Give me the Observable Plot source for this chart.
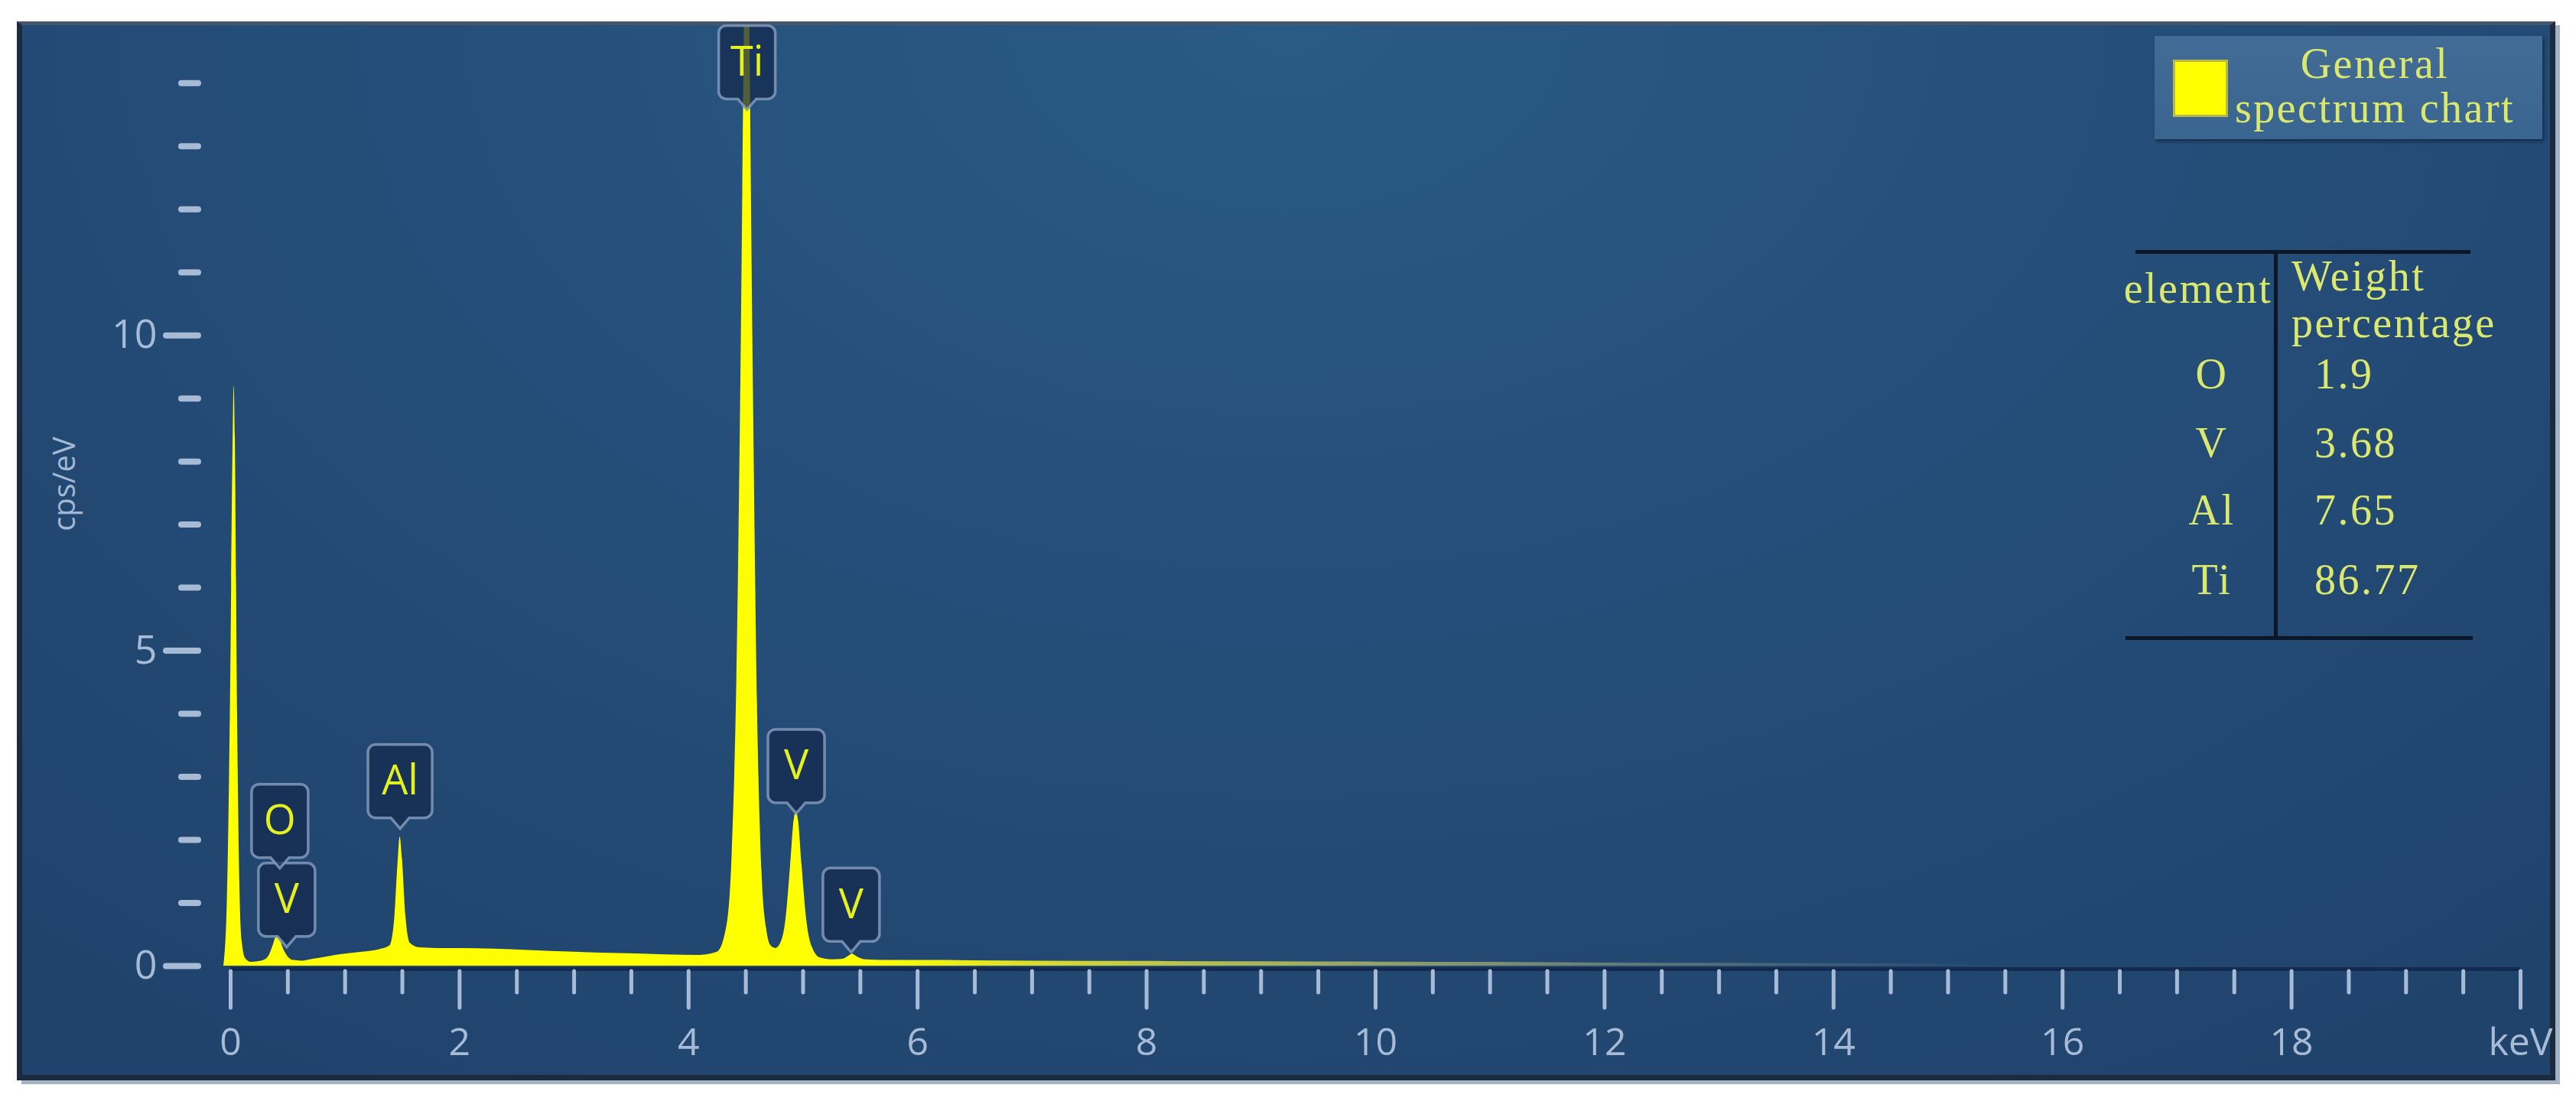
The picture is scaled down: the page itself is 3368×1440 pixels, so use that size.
<!DOCTYPE html>
<html>
<head>
<meta charset="utf-8">
<script src="https://cdn.jsdelivr.net/npm/d3@7"></script>
<script src="https://cdn.jsdelivr.net/npm/@observablehq/plot@0.6"></script>
<style>
  html, body { margin: 0; padding: 0; background: #ffffff; }
  #wrap { position: relative; width: 3368px; height: 1440px; overflow: hidden; background: #ffffff; }
  #frame {
    position: absolute; left: 22px; top: 28px; width: 3319px; height: 1385px;
    box-sizing: border-box;
    border: 7px solid #1b2a3e; border-top: 5px solid #46566a;
    box-shadow: 6px 5px 0 0 #a4b3c3;
    background: radial-gradient(ellipse 75% 120% at 50% 0%, #2a5a86 0%, #254f7a 45%, #20436c 100%);
  }
  #chart { position: absolute; left: 0; top: 0; }
  .mono { position: absolute; font-family: "Liberation Serif", "DejaVu Serif", serif; font-size: 56px; line-height: 56px;
          letter-spacing: 2.5px; color: #dbe86e; white-space: pre; }
  #legend { position: absolute; left: 2817px; top: 47px; width: 507px; height: 135px;
            background: linear-gradient(#426c95, #3a6590); box-shadow: 2px 3px 4px rgba(10,25,45,0.6); }
  #swatch { position: absolute; left: 24px; top: 31px; width: 72px; height: 75px; background: #ffff00;
            box-sizing: border-box; border: 3px solid #b9b94a; }
  .rule { position: absolute; background: #0b1727; }
  #ylab { position: absolute; left: 82px; top: 633px; transform: translate(-50%, -50%) rotate(-90deg);
          font-family: "Open Sans", sans-serif; font-size: 40px; color: #a3b8d4; white-space: nowrap; }
</style>
</head>
<body>
<div id="wrap">
  <div id="frame"></div>
  <div id="chart"></div>
  <div id="ylab">cps/eV</div>
  <div id="legend"><div id="swatch"></div></div>
</div>
<script>
// ---- Spectrum: energy in keV, counts in cps/eV ----
const energy = [-0.06, -0.03, 0.00, 0.02, 0.03, 0.04, 0.06, 0.08, 0.10, 0.13,
                0.18, 0.24, 0.30, 0.34, 0.37, 0.40, 0.43, 0.46, 0.50, 0.55,
                0.62, 0.72, 0.85, 1.00, 1.15, 1.30, 1.39, 1.43, 1.46, 1.48,
                1.50, 1.53, 1.57, 1.65, 1.80, 2.00, 2.30, 2.60, 3.00, 3.40,
                3.80, 4.10, 4.25, 4.33, 4.38, 4.42, 4.46, 4.49, 4.51, 4.53,
                4.56, 4.60, 4.64, 4.68, 4.72, 4.76, 4.80, 4.85, 4.89, 4.92,
                4.94, 4.96, 4.99, 5.03, 5.08, 5.15, 5.25, 5.35, 5.40, 5.43,
                5.47, 5.55, 5.70, 6.00, 7.00, 8.00, 9.00, 10.00, 11.00, 12.00,
                13.00, 14.00, 15.00, 16.00];
const counts = [0.00, 1.00, 4.50, 8.20, 9.20, 8.40, 4.00, 1.30, 0.40, 0.12,
                0.06, 0.07, 0.10, 0.18, 0.32, 0.46, 0.42, 0.28, 0.15, 0.09,
                0.08, 0.11, 0.15, 0.19, 0.22, 0.26, 0.32, 0.70, 1.60, 2.05,
                1.70, 0.80, 0.36, 0.29, 0.28, 0.28, 0.27, 0.25, 0.22, 0.20,
                0.18, 0.17, 0.22, 0.60, 1.80, 4.50, 10.0, 15.5, 18.0, 15.5,
                10.0, 4.20, 1.50, 0.60, 0.32, 0.28, 0.35, 0.75, 1.60, 2.30,
                2.45, 2.30, 1.60, 0.75, 0.30, 0.13, 0.10, 0.11, 0.16, 0.19,
                0.15, 0.10, 0.09, 0.09, 0.08, 0.075, 0.07, 0.065, 0.06, 0.05,
                0.045, 0.04, 0.03, 0.00];

// ---- Peak labels ----
const peakElement = ["V", "O", "Al", "Ti", "V", "V"];
const peakEnergy  = [0.49, 0.43, 1.48, 4.51, 4.94, 5.42];
const peakTip     = [0.30, 1.55, 2.18, 13.58, 2.42, 0.22];

// ---- Axes ----
const xMajorTicks = [0, 2, 4, 6, 8, 10, 12, 14, 16, 18, 20];
const xMinorTicks = [0.5, 1, 1.5, 2.5, 3, 3.5, 4.5, 5, 5.5, 6.5, 7, 7.5, 8.5, 9, 9.5,
                     10.5, 11, 11.5, 12.5, 13, 13.5, 14.5, 15, 15.5, 16.5, 17, 17.5,
                     18.5, 19, 19.5];
const yMajorTicks = [0, 5, 10];
const yMinorTicks = [1, 2, 3, 4, 6, 7, 8, 9, 11, 12, 13, 14];
const xUnitLabel = "keV";
const yAxisLabel = "cps/eV";

// ---- Legend and table ----
const legendLines = ["General", "spectrum chart"];
const tableHeader = ["element", "Weight", "percentage"];
const tableElements = ["O", "V", "Al", "Ti"];
const tableWeights = ["1.9", "3.68", "7.65", "86.77"];

// ---------------------------------------------------------------
const spectrum = energy.map((e, i) => ({e, c: counts[i]}));
const peaks = peakElement.map((el, i) => ({el, e: peakEnergy[i], tip: peakTip[i]}));

function boxSymbol(w) {
  const h = 96, r = 10, pd = 14, pw = 12;
  return {
    draw(ctx) {
      ctx.moveTo(0, 0);
      ctx.lineTo(-pw, -pd);
      ctx.lineTo(-w / 2 + r, -pd);
      ctx.arcTo(-w / 2, -pd, -w / 2, -pd - r, r);
      ctx.lineTo(-w / 2, -pd - h + r);
      ctx.arcTo(-w / 2, -pd - h, -w / 2 + r, -pd - h, r);
      ctx.lineTo(w / 2 - r, -pd - h);
      ctx.arcTo(w / 2, -pd - h, w / 2, -pd - h + r, r);
      ctx.lineTo(w / 2, -pd - r);
      ctx.arcTo(w / 2, -pd, w / 2 - r, -pd, r);
      ctx.lineTo(pw, -pd);
      ctx.closePath();
    }
  };
}

const tickColor = "#a7bbd6";
const boxStyle = {fill: "#15294d", fillOpacity: 0.75, stroke: "#8299ba", strokeWidth: 3.5, strokeOpacity: 0.85};

const chart = Plot.plot({
  width: 3368,
  height: 1440,
  marginLeft: 259,
  marginRight: 73,
  marginTop: 34,
  marginBottom: 170,
  style: {background: "transparent", color: tickColor, fontFamily: "'Open Sans', sans-serif", fontSize: "50px"},
  x: {domain: [0, 20], insetLeft: 42, label: null},
  y: {domain: [0, 14.9], insetBottom: 7, label: null},
  marks: [
    Plot.ruleY([0], {x1: 0, x2: 20, stroke: "#132a4c", strokeWidth: 5, dy: 4}),
    Plot.areaY(spectrum, {x: "e", y: "c", fill: "url(#specFade)", curve: "monotone-x", clip: true}),
    Plot.dot(peaks.filter(d => d.el !== "Al"), {x: "e", y: "tip", symbol: boxSymbol(74), r: 10, ...boxStyle}),
    Plot.dot(peaks.filter(d => d.el === "Al"), {x: "e", y: "tip", symbol: boxSymbol(84), r: 10, ...boxStyle}),
    Plot.text(peaks, {x: "e", y: "tip", text: "el", dy: -62, fill: "#e6f01e", fontSize: 54,
                      textAnchor: "middle", lineAnchor: "middle", fontFamily: "'Open Sans', sans-serif"}),
    Plot.axisX({ticks: xMinorTicks, tickSize: 28, tickFormat: () => "", stroke: tickColor, strokeWidth: 5,
                strokeLinecap: "round", label: null}),
    Plot.axisX({ticks: xMajorTicks, tickSize: 48, tickPadding: 26, stroke: tickColor, strokeWidth: 5,
                strokeLinecap: "round", fill: tickColor, fontSize: 50, label: null,
                tickFormat: d => d === 20 ? xUnitLabel : String(d)}),
    Plot.axisY({ticks: yMinorTicks, tickSize: 22, tickFormat: () => "", stroke: tickColor, strokeWidth: 8,
                strokeLinecap: "round", label: null}),
    Plot.axisY({ticks: yMajorTicks, tickSize: 42, tickPadding: 12, stroke: tickColor, strokeWidth: 8,
                strokeLinecap: "round", fill: tickColor, fontSize: 52, label: null})
  ]
});

// gradient that fades the long continuum tail
const xs = chart.scale("x");
const svg = d3.select(chart);
const grad = svg.insert("defs", ":first-child").append("linearGradient")
  .attr("id", "specFade").attr("gradientUnits", "userSpaceOnUse")
  .attr("x1", xs.apply(5.6)).attr("x2", xs.apply(15.5)).attr("y1", 0).attr("y2", 0);
grad.append("stop").attr("offset", 0).attr("stop-color", "#ffff00").attr("stop-opacity", 1);
grad.append("stop").attr("offset", 0.5).attr("stop-color", "#d8d870").attr("stop-opacity", 0.55);
grad.append("stop").attr("offset", 1).attr("stop-color", "#c8c8a0").attr("stop-opacity", 0.0);

document.getElementById("chart").appendChild(chart);
document.getElementById("ylab").textContent = yAxisLabel;

// legend text and table (HTML overlay)
const wrap = document.getElementById("wrap");
const legend = document.getElementById("legend");
function monoText(parent, text, baseline, opts) {
  const d = document.createElement("div");
  d.className = "mono";
  d.textContent = text;
  d.style.top = (baseline - 47) + "px";
  if (opts.center !== undefined) {
    d.style.left = (opts.center - 400) + "px";
    d.style.width = "800px";
    d.style.textAlign = "center";
  } else {
    d.style.left = opts.left + "px";
  }
  parent.appendChild(d);
}
monoText(legend, legendLines[0], 55, {center: 288});
monoText(legend, legendLines[1], 113, {center: 288});

function rule(l, t, w, h) {
  const d = document.createElement("div");
  d.className = "rule";
  Object.assign(d.style, {left: l + "px", top: t + "px", width: w + "px", height: h + "px"});
  wrap.appendChild(d);
}
rule(2792, 327, 438, 5);
rule(2779, 832, 454, 5);
rule(2973, 327, 5, 510);

monoText(wrap, tableHeader[0], 396, {center: 2874});
monoText(wrap, tableHeader[1], 380, {left: 2996});
monoText(wrap, tableHeader[2], 441, {left: 2996});
const rowBaselines = [508, 598, 686, 777];
tableElements.forEach((el, i) => monoText(wrap, el, rowBaselines[i], {center: 2892}));
tableWeights.forEach((w, i) => monoText(wrap, w, rowBaselines[i], {left: 3026}));
</script>
</body>
</html>
